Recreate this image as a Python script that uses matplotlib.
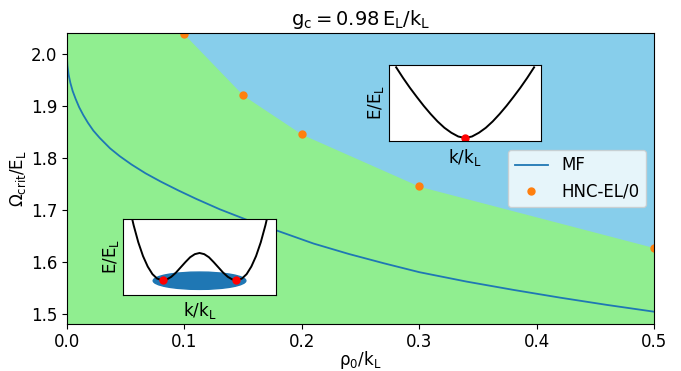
import numpy as np
import matplotlib
matplotlib.use('Agg')
import matplotlib.pyplot as plt
from matplotlib.patches import Ellipse

# mean-field critical Raman coupling vs density
mf_rho = [0, 0.0005, 0.0015, 0.003, 0.005, 0.0075, 0.0105, 0.014, 0.018, 0.0226,
          0.028, 0.0368, 0.045, 0.055, 0.067, 0.08, 0.095, 0.11, 0.13, 0.155,
          0.18, 0.21, 0.24, 0.27, 0.30, 0.34, 0.38, 0.42, 0.46, 0.5]
mf_omega = [2.000, 1.978, 1.961, 1.945, 1.929, 1.914, 1.898, 1.883, 1.868, 1.853,
            1.839, 1.819, 1.804, 1.788, 1.771, 1.755, 1.738, 1.722, 1.702, 1.680,
            1.660, 1.636, 1.616, 1.598, 1.581, 1.563, 1.547, 1.532, 1.518, 1.505]

# HNC-EL/0 points
hnc_rho = [0.1, 0.15, 0.2, 0.3, 0.5]
hnc_omega = [2.038, 1.921, 1.846, 1.746, 1.628]

# inset sketches: double-well and single-well dispersion (half, mirrored)
dw_k_half = [0.0, 0.1, 0.2, 0.3, 0.4, 0.5, 0.6, 0.7, 0.8, 0.9, 1.0, 1.1, 1.2, 1.3, 1.4, 1.5]
dw_E_half = [-1.250, -1.256, -1.272, -1.297, -1.324, -1.351, -1.373, -1.387, -1.390,
             -1.382, -1.359, -1.320, -1.266, -1.195, -1.106, -1.000]
dw_kmin, dw_Emin = 0.781, -1.391
sw_k_half = [0.0, 0.1, 0.2, 0.3, 0.4, 0.5, 0.6, 0.7, 0.8, 0.9, 1.0]
sw_E_half = [0.0, 0.022, 0.075, 0.145, 0.235, 0.34, 0.455, 0.58, 0.71, 0.85, 1.0]

fig = plt.figure(figsize=(6.81, 3.71), dpi=100)
ax = fig.add_axes([0.0981, 0.1275, 0.8627, 0.7827])

ax.set_facecolor('lightgreen')
ax.fill_between(hnc_rho, hnc_omega, 2.2, color='skyblue', lw=0)
ax.plot(mf_rho, mf_omega, color='tab:blue', lw=1.3, label='MF')
ax.plot(hnc_rho, hnc_omega, 'o', color='tab:orange', ms=5, label='HNC-EL/0')

ax.set_xlim(0, 0.5)
ax.set_ylim(1.482, 2.040)
ax.set_xticks([0.0, 0.1, 0.2, 0.3, 0.4, 0.5])
ax.set_yticks([1.5, 1.6, 1.7, 1.8, 1.9, 2.0])
ax.tick_params(labelsize=12)
ax.set_xlabel(r'$\mathrm{\rho_0/k_L}$', fontsize=12, labelpad=-1.5)
ax.set_ylabel(r'$\mathrm{\Omega_{crit}/E_L}$', fontsize=12, labelpad=2)
ax.set_title(r'$\mathrm{g_c = 0.98\,E_L/k_L}$', fontsize=14)
ax.legend(loc='center right', fontsize=12)

# inset 1: double well (stripe phase)
ins1 = fig.add_axes([0.1811, 0.2057, 0.2238, 0.2049])
k1 = np.concatenate([-np.array(dw_k_half[::-1]), dw_k_half[1:]])
E1 = np.concatenate([dw_E_half[::-1], dw_E_half[1:]])
ins1.add_patch(Ellipse((0, dw_Emin - 0.002), 1.968, 0.0894, color='tab:blue', zorder=1))
ins1.plot(k1, E1, color='black', lw=1.4, zorder=2)
ins1.plot([-dw_kmin, dw_kmin], [dw_Emin, dw_Emin], 'o', color='red', ms=5, zorder=3)
ins1.set_xlim(-1.618, 1.618)
ins1.set_ylim(-1.465, -1.073)
ins1.set_xticks([])
ins1.set_yticks([])
ins1.set_xlabel(r'$\mathrm{k/k_L}$', fontsize=12)
ins1.set_ylabel(r'$\mathrm{E/E_L}$', fontsize=12, labelpad=2)

# inset 2: single well
ins2 = fig.add_axes([0.5712, 0.6199, 0.2236, 0.2057])
k2 = np.concatenate([-np.array(sw_k_half[::-1]), sw_k_half[1:]])
E2 = np.concatenate([sw_E_half[::-1], sw_E_half[1:]])
ins2.plot(k2, E2, color='black', lw=1.4)
ins2.plot([0], [0], 'o', color='red', ms=5)
ins2.set_xlim(-1.104, 1.104)
ins2.set_ylim(-0.042, 1.037)
ins2.set_xticks([])
ins2.set_yticks([])
ins2.set_xlabel(r'$\mathrm{k/k_L}$', fontsize=12)
ins2.set_ylabel(r'$\mathrm{E/E_L}$', fontsize=12, labelpad=2)

fig.savefig('out.png', dpi=100)
